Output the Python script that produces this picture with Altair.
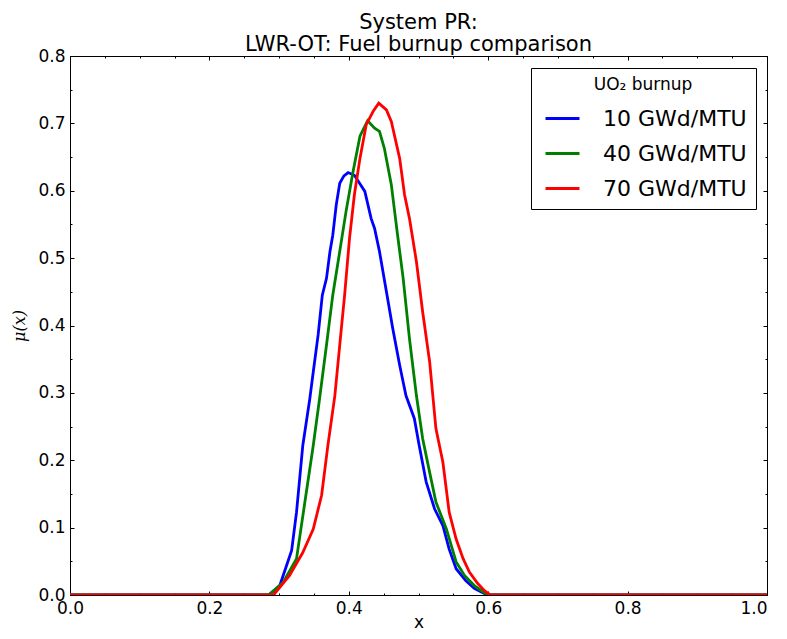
import altair as alt
import pandas as pd

series_names = ["10 GWd/MTU", "40 GWd/MTU", "70 GWd/MTU"]
series_colors = ["#0000ff", "#008000", "#ff0000"]

blue_x = [0.0, 0.285, 0.301, 0.318, 0.325, 0.334, 0.344, 0.349, 0.356, 0.362, 0.368, 0.373, 0.377,
          0.382, 0.387, 0.393, 0.399, 0.408, 0.415, 0.423, 0.432, 0.437, 0.444, 0.454, 0.463, 0.473,
          0.482, 0.494, 0.501, 0.511, 0.523, 0.535, 0.544, 0.554, 0.568, 0.58, 0.595, 0.6, 1.0]
blue_y = [0, 0, 0.014, 0.066, 0.123, 0.222, 0.291, 0.331, 0.386, 0.445, 0.470, 0.510, 0.534,
          0.579, 0.611, 0.622, 0.627, 0.623, 0.612, 0.599, 0.559, 0.544, 0.510, 0.450, 0.396, 0.341,
          0.296, 0.262, 0.222, 0.168, 0.128, 0.103, 0.068, 0.039, 0.021, 0.010, 0.002, 0, 0]

green_x = [0.0, 0.285, 0.306, 0.325, 0.337, 0.349, 0.358, 0.368, 0.377, 0.387, 0.396, 0.406, 0.416,
           0.427, 0.437, 0.444, 0.451, 0.461, 0.470, 0.478, 0.487, 0.497, 0.506, 0.516, 0.525, 0.540,
           0.554, 0.566, 0.58, 0.595, 0.6, 1.0]
green_y = [0, 0, 0.019, 0.054, 0.138, 0.222, 0.291, 0.371, 0.445, 0.510, 0.569, 0.628, 0.681,
           0.704, 0.693, 0.688, 0.663, 0.609, 0.534, 0.470, 0.381, 0.296, 0.232, 0.182, 0.138, 0.098,
           0.049, 0.029, 0.014, 0.003, 0, 0]

red_x = [0.0, 0.292, 0.315, 0.334, 0.349, 0.361, 0.370, 0.380, 0.387, 0.394, 0.401, 0.408, 0.416,
         0.425, 0.435, 0.443, 0.454, 0.461, 0.473, 0.480, 0.487, 0.497, 0.506, 0.516, 0.525, 0.535,
         0.544, 0.554, 0.564, 0.573, 0.585, 0.595, 0.603, 1.0]
red_y = [0, 0, 0.029, 0.063, 0.098, 0.148, 0.222, 0.296, 0.371, 0.445, 0.529, 0.594, 0.648,
         0.698, 0.718, 0.730, 0.720, 0.703, 0.648, 0.594, 0.559, 0.495, 0.420, 0.346, 0.247, 0.197,
         0.123, 0.083, 0.054, 0.034, 0.017, 0.006, 0, 0]

x_major = [0.0, 0.2, 0.4, 0.6, 0.8, 1.0]
x_minor = [round(i * 0.05, 2) for i in range(21)]
y_major = [0.0, 0.1, 0.2, 0.3, 0.4, 0.5, 0.6, 0.7, 0.8]
y_minor = [round(i * 0.05, 2) for i in range(17)]

rows = []
for name, xs, ys in zip(series_names, [blue_x, green_x, red_x], [blue_y, green_y, red_y]):
    for i, (a, b) in enumerate(zip(xs, ys)):
        rows.append({"series": name, "x": a, "y": b, "order": i})
df = pd.DataFrame(rows)

xs = alt.Scale(domain=[0, 1], nice=False, zero=False)
ys = alt.Scale(domain=[0, 0.8], nice=False, zero=False)
base = alt.Chart(df)

FONT = "DejaVu Sans"

main = base.mark_line(strokeWidth=2.8, clip=True).encode(
    x=alt.X("x:Q", scale=xs, axis=alt.Axis(
        values=x_major, format=".1f", ticks=False, domain=False, grid=False,
        labelFlush=False, labelOverlap=False,
        labelAlign=alt.ExprRef("datum.value == 1 ? 'right' : 'center'"),
        labelFontSize=17, labelPadding=5, labelColor="black", labelFont=FONT,
        title="x", titleFontSize=17, titleFontWeight="normal", titleColor="black",
        titleFont=FONT, titlePadding=-2)),
    y=alt.Y("y:Q", scale=ys, axis=alt.Axis(
        values=y_major, format=".1f", ticks=False, domain=False, grid=False,
        labelFlush=False, labelOverlap=False,
        labelFontSize=17, labelPadding=5, labelColor="black", labelFont=FONT,
        title="μ(x)", titleFontSize=16, titleFontWeight="normal", titleColor="black",
        titleFont="DejaVu Serif", titleFontStyle="italic", titlePadding=10)),
    color=alt.Color("series:N", scale=alt.Scale(domain=series_names, range=series_colors),
                    legend=alt.Legend(
                        title="UO₂ burnup", orient="none", legendX=461, legendY=12,
                        titleFontSize=17, titleFontWeight="normal", titleColor="black",
                        titleFont=FONT, titleAnchor="middle", titlePadding=6,
                        labelFontSize=22, labelColor="black", labelFont=FONT, labelOffset=22,
                        symbolType="stroke", symbolSize=1156, symbolStrokeWidth=3,
                        symbolOffset=4, rowPadding=5,
                        strokeColor="black", fillColor="white", padding=9, cornerRadius=0)),
    order="order:Q",
)


def tick_layer(xorient, yorient, xvals, yvals, size):
    return base.mark_line(strokeOpacity=0).encode(
        x=alt.X("x:Q", scale=xs, axis=alt.Axis(
            orient=xorient, offset=-size, values=xvals, tickSize=size, tickColor="black",
            tickWidth=1, labels=False, domain=False, grid=False, title="")),
        y=alt.Y("y:Q", scale=ys, axis=alt.Axis(
            orient=yorient, offset=-size, values=yvals, tickSize=size, tickColor="black",
            tickWidth=1, labels=False, domain=False, grid=False, title="")),
        detail="series:N",
        order="order:Q",
    )


layers = [
    tick_layer("bottom", "left", x_major, y_major, 4),
    tick_layer("bottom", "left", x_minor, y_minor, 2),
    tick_layer("top", "right", x_major, y_major, 4),
    tick_layer("top", "right", x_minor, y_minor, 2),
    main,
]

chart = alt.layer(*layers).resolve_axis(x="independent", y="independent").properties(
    width=697, height=539,
    autosize=alt.AutoSizeParams(type="none"),
    padding={"left": 62, "top": 48, "right": 12, "bottom": 36},
    title=alt.TitleParams(["System PR:", "LWR-OT: Fuel burnup comparison"],
                          fontSize=21, fontWeight="normal", font=FONT, color="black",
                          anchor="middle", offset=-8, lineHeight=22),
).configure_view(stroke="black", strokeWidth=1)

chart.save("out.html", embed_options={"renderer": "svg", "actions": False})
